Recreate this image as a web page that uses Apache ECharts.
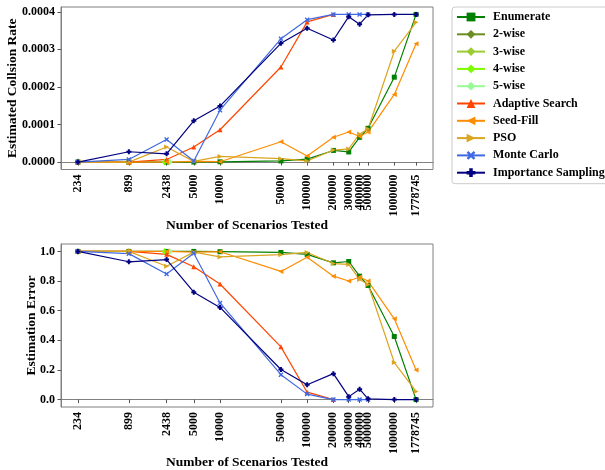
<!DOCTYPE html>
<html><head><meta charset="utf-8">
<script src="https://cdn.jsdelivr.net/npm/echarts@6/dist/echarts.min.js"></script>
<style>html,body{margin:0;padding:0;background:#fff}#c{width:605px;height:470px}</style>
</head><body><div id="c"></div><script>
// ---- data ----
const xTicks = [234, 899, 2438, 5000, 10000, 50000, 100000, 200000, 300000, 400000, 500000, 1000000, 1778745];
const yTicksRate = [0, 0.0001, 0.0002, 0.0003, 0.0004];
const yTicksErr = [0, 0.2, 0.4, 0.6, 0.8, 1.0];

const enumX = [234, 899, 2438, 5000, 10000, 50000, 100000, 200000, 300000, 400000, 500000, 1000000, 1778745];
const enumRate = [0, 0, 0, 0, 0.0000008, 0.000003, 0.000008, 0.000031, 0.000027, 0.000066, 0.00009, 0.000226, 0.000393];
const enumErr = [1.0, 1.0, 1.0, 1.0, 0.998, 0.993, 0.98, 0.923, 0.932, 0.833, 0.77, 0.426, 0.0];

const twoWiseX = [234];
const twoWiseRate = [0];
const twoWiseErr = [1.0];
const threeWiseX = [899];
const threeWiseRate = [0];
const threeWiseErr = [1.0];
const fourWiseX = [2300];
const fourWiseRate = [0];
const fourWiseErr = [1.0];
const fiveWiseX = [2650];
const fiveWiseRate = [0];
const fiveWiseErr = [1.0];

const adaptX = [234, 899, 2438, 5000, 10000, 50000, 100000, 200000];
const adaptRate = [0, 0, 0.000007, 0.00004, 0.000086, 0.000253, 0.000373, 0.000393];
const adaptErr = [1.0, 1.0, 0.98, 0.897, 0.78, 0.356, 0.05, 0.0];

const seedX = [234, 899, 2438, 5000, 10000, 50000, 100000, 200000, 300000, 400000, 500000, 1000000, 1778745];
const seedRate = [0, 0, 0, 0.000002, 0.000001, 0.000054, 0.000016, 0.000066, 0.00008, 0.000068, 0.00008, 0.00018, 0.000315];
const seedErr = [1.0, 1.0, 1.0, 0.995, 0.998, 0.865, 0.96, 0.833, 0.80, 0.827, 0.80, 0.545, 0.20];

const psoX = [234, 899, 2438, 5000, 10000, 50000, 100000, 200000, 300000, 400000, 500000, 1000000, 1778745];
const psoRate = [0, 0, 0.00004, 0.000002, 0.000015, 0.000009, 0.000003, 0.000032, 0.000035, 0.000075, 0.000088, 0.000295, 0.000372];
const psoErr = [1.0, 1.0, 0.90, 0.995, 0.963, 0.978, 0.993, 0.918, 0.912, 0.81, 0.777, 0.25, 0.055];

const mcX = [234, 899, 2438, 5000, 10000, 50000, 100000, 200000, 300000, 400000, 500000];
const mcRate = [0, 0.000007, 0.00006, 0.000003, 0.000138, 0.000328, 0.000379, 0.000393, 0.000393, 0.000393, 0.000393];
const mcErr = [1.0, 0.985, 0.848, 0.988, 0.652, 0.168, 0.037, 0.0, 0.0, 0.0, 0.0];

const isX = [234, 899, 2438, 5000, 10000, 50000, 100000, 200000, 300000, 400000, 500000, 1000000, 1778745];
const isRate = [0, 0.0000275, 0.000022, 0.00011, 0.000149, 0.000316, 0.000356, 0.000325, 0.000387, 0.000367, 0.000392, 0.000393, 0.000393];
const isErr = [1.0, 0.93, 0.945, 0.725, 0.622, 0.203, 0.10, 0.175, 0.02, 0.07, 0.005, 0.0, 0.0];

// ---- styling ----
const FONT = '"Liberation Serif", "Times New Roman", serif';
const X_SYM = 'path://M0,2 L2,0 L5,3 L8,0 L10,2 L7,5 L10,8 L8,10 L5,7 L2,10 L0,8 L3,5 Z';
const P_SYM = 'path://M3,0 L7,0 L7,3 L10,3 L10,7 L7,7 L7,10 L3,10 L3,7 L0,7 L0,3 L3,3 Z';

const methods = [
  {name: 'Enumerate', x: enumX, r: enumRate, e: enumErr, color: '#008000', symbol: 'rect', size: 5},
  {name: '2-wise', x: twoWiseX, r: twoWiseRate, e: twoWiseErr, color: '#6b8e23', symbol: 'diamond', size: [5, 7]},
  {name: '3-wise', x: threeWiseX, r: threeWiseRate, e: threeWiseErr, color: '#9acd32', symbol: 'diamond', size: [5, 7]},
  {name: '4-wise', x: fourWiseX, r: fourWiseRate, e: fourWiseErr, color: '#7cfc00', symbol: 'diamond', size: [5, 7]},
  {name: '5-wise', x: fiveWiseX, r: fiveWiseRate, e: fiveWiseErr, color: '#98fb98', symbol: 'diamond', size: [5, 7]},
  {name: 'Adaptive Search', x: adaptX, r: adaptRate, e: adaptErr, color: '#ff4500', symbol: 'triangle', size: 5},
  {name: 'Seed-Fill', x: seedX, r: seedRate, e: seedErr, color: '#ff8c00', symbol: 'triangle', size: 5, rot: 90},
  {name: 'PSO', x: psoX, r: psoRate, e: psoErr, color: '#daa520', symbol: 'triangle', size: 5, rot: -90},
  {name: 'Monte Carlo', x: mcX, r: mcRate, e: mcErr, color: '#4169e1', symbol: X_SYM, size: 5},
  {name: 'Importance Sampling', x: isX, r: isRate, e: isErr, color: '#000080', symbol: P_SYM, size: 5}
];

const series = [];
methods.forEach(m => {
  [0, 1].forEach(g => {
    const ys = g === 0 ? m.r : m.e;
    series.push({
      name: m.name, type: 'line', xAxisIndex: g, yAxisIndex: g,
      data: m.x.map((xv, i) => [xv, ys[i]]),
      symbol: m.symbol, symbolSize: m.size, symbolRotate: m.rot || 0,
      showSymbol: true, showAllSymbol: true,
      lineStyle: {color: m.color, width: 1.2},
      itemStyle: {color: m.color},
      emphasis: {disabled: true}, silent: true, animation: false
    });
  });
});

const axisLbl = {fontFamily: FONT, fontWeight: 'bold', fontSize: 12, color: '#000'};
const nameStyle = {fontFamily: FONT, fontWeight: 'bold', fontSize: 13.5, color: '#000'};
const xMin = 149.7, xMax = 2781000;

function xAxis(g) {
  return {
    type: 'log', logBase: 10, gridIndex: g, min: xMin, max: xMax,
    name: 'Number of Scenarios Tested', nameLocation: 'middle', nameGap: 49, nameMoveOverlap: false,
    nameTextStyle: nameStyle,
    axisLine: {show: true, lineStyle: {color: '#808080', width: 1}},
    axisTick: {show: true, length: 3.5, customValues: xTicks, lineStyle: {color: '#555'}},
    minorTick: {show: false},
    axisLabel: Object.assign({rotate: 90, margin: 5, customValues: xTicks, hideOverlap: false,
      formatter: v => String(Math.round(v))}, axisLbl),
    splitLine: {show: false}
  };
}
function yAxis(g, name, min, max, ticks, dec, gap) {
  return {
    type: 'value', gridIndex: g, min: min, max: max, scale: true,
    name: name, nameLocation: 'middle', nameGap: gap, nameMoveOverlap: false, nameTextStyle: nameStyle,
    axisLine: {show: true, lineStyle: {color: '#808080', width: 1}},
    axisTick: {show: true, length: 3.5, customValues: ticks, lineStyle: {color: '#555'}},
    axisLabel: Object.assign({margin: 6, customValues: ticks, formatter: v => Number(v).toFixed(dec)}, axisLbl),
    splitLine: {show: false}
  };
}

const chart = echarts.init(document.getElementById('c'), null, {renderer: 'canvas'});
chart.setOption({
  animation: false,
  backgroundColor: '#fff',
  grid: [
    {left: 61, top: 7, width: 372, height: 162.5, show: true, borderColor: '#808080', borderWidth: 1, outerBoundsMode: 'none'},
    {left: 61, top: 244, width: 372, height: 163, show: true, borderColor: '#808080', borderWidth: 1, outerBoundsMode: 'none'}
  ],
  xAxis: [xAxis(0), xAxis(1)],
  yAxis: [
    yAxis(0, 'Estimated Collsion Rate', -0.0000197, 0.0004127, yTicksRate, 4, 41),
    yAxis(1, 'Estimation Error', -0.05, 1.05, yTicksErr, 1, 22)
  ],
  legend: {
    orient: 'vertical', left: 452, top: 7,
    padding: [4, 8, 5, 4],
    itemWidth: 28, itemHeight: 11, itemGap: 5.3,
    borderColor: '#cccccc', borderWidth: 1, borderRadius: 3, backgroundColor: '#fff',
    textStyle: {fontFamily: FONT, fontWeight: 'bold', fontSize: 12, color: '#000', padding: [0, 0, 0, 3]},
    data: methods.map(m => m.name),
    selectedMode: false
  },
  series: series
});
</script></body></html>
